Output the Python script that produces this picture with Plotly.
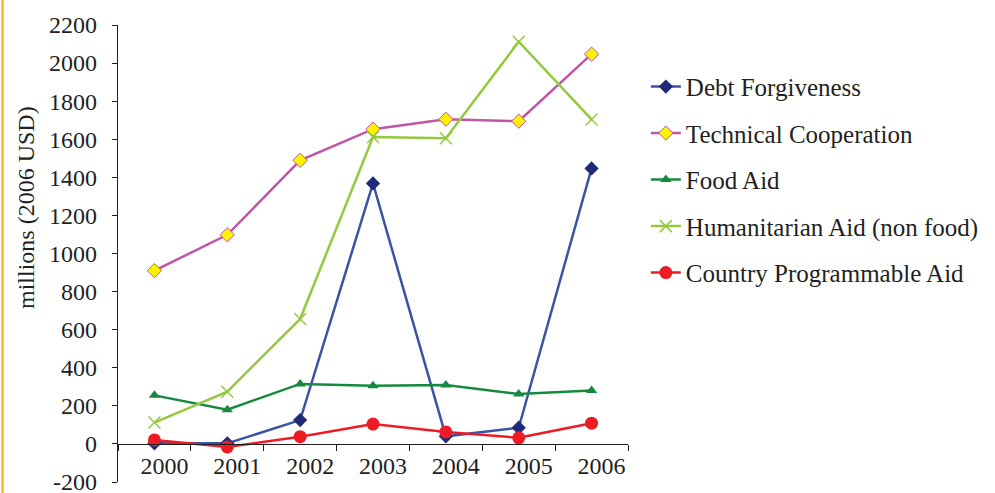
import plotly.graph_objects as go

years = ["2000", "2001", "2002", "2003", "2004", "2005", "2006"]
debt_forgiveness = [3, 3, 125, 1368, 40, 85, 1447]
technical_cooperation = [910, 1098, 1489, 1653, 1705, 1695, 2047]
food_aid = [255, 180, 315, 305, 310, 262, 280]
humanitarian_aid = [112, 274, 656, 1612, 1605, 2112, 1704]
country_programmable = [21, -16, 38, 104, 63, 32, 109]
y_ticks = [-200, 0, 200, 400, 600, 800, 1000, 1200, 1400, 1600, 1800, 2000, 2200]
y_tick_labels = ["-200", "0", "200", "400", "600", "800", "1000", "1200",
                 "1400", "1600", "1800", "2000", "2200"]

FONT = "Liberation Serif"
TEXT = "#231F20"

series = [
    ("Debt Forgiveness", debt_forgiveness, "#3A53A4",
     dict(symbol="diamond", size=11, color="#1F2A78", line=dict(width=0))),
    ("Technical Cooperation", technical_cooperation, "#C055A8",
     dict(symbol="diamond", size=11, color="#FFF200", line=dict(width=1, color="#C055A8"))),
    ("Food Aid", food_aid, "#158A3E",
     dict(symbol="triangle-up", size=10, color="#158A3E", line=dict(width=0))),
    ("Humanitarian Aid (non food)", humanitarian_aid, "#95C93D",
     dict(symbol="x-thin", size=12, color="#95C93D", line=dict(width=1.5, color="#95C93D"))),
    ("Country Programmable Aid", country_programmable, "#ED1C24",
     dict(symbol="circle", size=13, color="#ED1C24", line=dict(width=0))),
]

fig = go.Figure()
for i, (name, vals, col, mk) in enumerate(series):
    fig.add_trace(go.Scatter(
        x=years, y=vals, name=name, mode="lines+markers",
        line=dict(color=col, width=2.5), marker=mk,
        legendgroup=f"g{i}",
    ))

fig.update_layout(
    width=995, height=493,
    margin=dict(l=118, r=367, t=25, b=11, autoexpand=False),
    paper_bgcolor="white", plot_bgcolor="white",
    font=dict(family=FONT, size=24, color=TEXT),
    showlegend=True,
    legend=dict(x=1.035, y=0.915, xanchor="left", yanchor="top",
                font=dict(family=FONT, size=25, color=TEXT),
                tracegroupgap=11, bgcolor="rgba(0,0,0,0)", itemwidth=30),
    xaxis=dict(
        type="category", anchor="free", position=200/2400, automargin=False,
        showline=True, linecolor="#231F20", linewidth=1.2,
        ticks="outside", ticklen=6, tickcolor="#231F20", tickwidth=1.2,
        tickson="boundaries", showgrid=False, zeroline=False,
        ticklabelshift=10, tickfont=dict(family=FONT, size=24, color=TEXT),
        range=[-0.5, 6.5],
    ),
    yaxis=dict(
        range=[-200, 2200], tickvals=y_ticks, ticktext=y_tick_labels,
        automargin=False,
        showline=True, linecolor="#231F20", linewidth=1.2,
        ticks="outside", ticklen=5, tickcolor="#231F20", tickwidth=1.2,
        showgrid=False, zeroline=False, ticklabelstandoff=10,
        ticklabeloverflow="allow",
        tickfont=dict(family=FONT, size=24, color=TEXT),
    ),
    annotations=[dict(
        text="millions (2006 USD)", textangle=-90, xref="paper", yref="paper",
        x=(26 - 118) / 510, y=(482 - 208) / 457, xanchor="center", yanchor="middle",
        showarrow=False, font=dict(family=FONT, size=24, color=TEXT),
    )],
    shapes=[dict(
        type="line", xref="paper", yref="paper",
        x0=(2.5 - 118) / 510, x1=(2.5 - 118) / 510,
        y0=(482 + 5) / 457, y1=(482 - 500) / 457,
        line=dict(color="#F7A51E", width=2),
    )],
)

fig.write_html("out.html")
